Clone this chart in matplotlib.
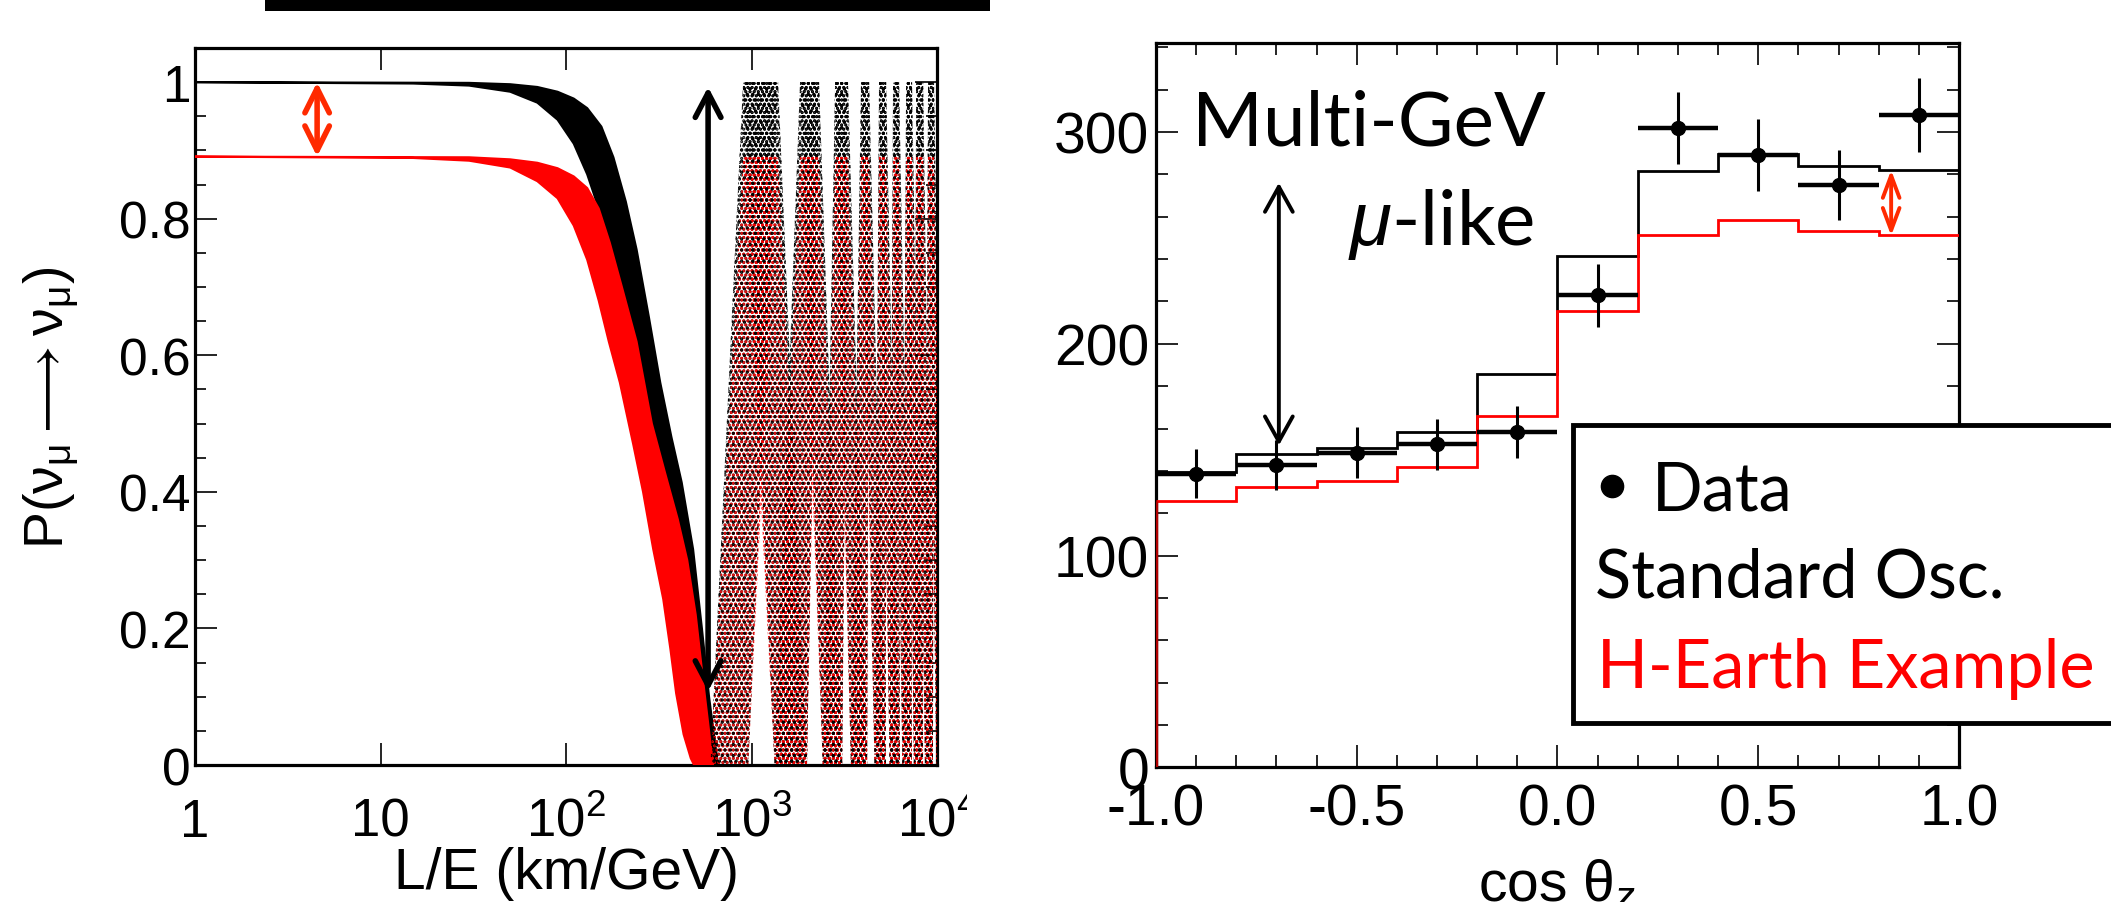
import numpy as np
import matplotlib
matplotlib.use('Agg')
import matplotlib.pyplot as plt
from matplotlib.ticker import LogLocator, NullFormatter, MultipleLocator
from matplotlib.patches import Rectangle
from matplotlib.lines import Line2D

plt.rcParams['font.family'] = 'Liberation Sans'
plt.rcParams['mathtext.fontset'] = 'custom'
plt.rcParams['mathtext.rm'] = 'Liberation Sans'
plt.rcParams['mathtext.it'] = 'Liberation Sans:italic'
plt.rcParams['hatch.linewidth'] = 1.5

# ---- left panel: survival probability band ----
# first dip, outer envelopes (L/E in km/GeV, P)
blk_hi_le = [1, 30, 50, 70, 90, 110, 130, 155, 180, 210, 240, 280, 322, 370, 420, 484, 540, 590, 630, 660]
blk_hi_p = [1.0, 0.999, 0.997, 0.993, 0.986, 0.976, 0.962, 0.935, 0.89, 0.825, 0.755, 0.655,
            0.56, 0.48, 0.414, 0.316, 0.2, 0.1, 0.04, 0.0]
blk_lo_le = [1, 15, 30, 50, 70, 90, 110, 130, 150, 175, 200, 240, 280, 320, 360, 400, 450, 490, 520]
blk_lo_p = [1.0, 0.998, 0.995, 0.986, 0.97, 0.945, 0.91, 0.865, 0.815, 0.75, 0.68, 0.57, 0.46,
            0.36, 0.27, 0.17, 0.07, 0.02, 0.0]

red_hi_le = [1, 30, 50, 70, 90, 110, 130, 150, 172, 200, 240, 290, 340, 400, 450, 500, 550, 590, 620]
red_hi_p = [0.891, 0.89, 0.887, 0.882, 0.874, 0.862, 0.845, 0.815, 0.765, 0.70, 0.62, 0.50,
            0.43, 0.36, 0.30, 0.22, 0.12, 0.05, 0.0]
red_lo_le = [1, 15, 30, 50, 70, 90, 110, 130, 150, 170, 195, 230, 260, 295, 334, 365, 392, 430, 470, 490]
red_lo_p = [0.891, 0.889, 0.885, 0.875, 0.855, 0.83, 0.79, 0.74, 0.68, 0.62, 0.56, 0.47, 0.40,
            0.316, 0.243, 0.17, 0.105, 0.045, 0.01, 0.0]

# fast oscillation region: L/E ranges of the maxima (top) and minima (bottom)
peak_lo = [900, 1825, 2820, 3890, 4865, 5790, 6810, 7710, 8940]
peak_hi = [1390, 2311, 3311, 4300, 5310, 6240, 7330, 8410, 9630]
trough_lo = [600, 1330, 2420, 3430, 4600, 5550, 6500, 7500, 8600, 9900]
trough_hi = [960, 1990, 3080, 4200, 5300, 6300, 7300, 8400, 9500, 11000]
p_max_std = 1.0
p_max_h = 0.891

# ---- right panel: multi-GeV mu-like zenith distribution ----
cos_edges = [-1.0, -0.8, -0.6, -0.4, -0.2, 0.0, 0.2, 0.4, 0.6, 0.8, 1.0]
std_osc = [139.7, 148.0, 151.0, 158.3, 185.5, 241.3, 281.6, 289.4, 283.9, 282.2]
h_earth = [125.7, 132.6, 135.3, 141.7, 166.1, 215.3, 251.2, 258.3, 253.2, 251.5]
data_x = [-0.9, -0.7, -0.5, -0.3, -0.1, 0.1, 0.3, 0.5, 0.7, 0.9]
data_y = [138.6, 143.0, 148.5, 152.5, 158.3, 222.8, 301.9, 289.0, 274.8, 307.9]
data_err = [11.6, 11.8, 12.0, 12.0, 12.3, 15.0, 17.0, 17.0, 16.5, 17.6]

fig = plt.figure(figsize=(21.11, 9.03), dpi=100)
ax1 = fig.add_axes([0.0924, 0.1517, 0.3515, 0.794])
ax2 = fig.add_axes([0.5476, 0.149, 0.3804, 0.8023])


def osc_arms(ax, top, color, hatch, z=2):
    # zig-zag between minima and maxima, one quadrilateral per arm
    nodes = []
    for i in range(len(trough_lo)):
        nodes.append((trough_lo[i], trough_hi[i], 0.0))
        if i < len(peak_lo):
            nodes.append((peak_lo[i], peak_hi[i], top))
    for a, b in zip(nodes[:-1], nodes[1:]):
        ax.fill([a[0], a[1], b[1], b[0]], [a[2], a[2], b[2], b[2]],
                facecolor='none', edgecolor=color, lw=0, hatch=hatch, zorder=z)


ax1.fill(blk_lo_le + blk_hi_le[::-1], blk_lo_p + blk_hi_p[::-1],
         fc='black', ec='black', lw=1.5, zorder=2)
osc_arms(ax1, p_max_std, 'black', '....')
ax1.fill(red_lo_le + red_hi_le[::-1], red_lo_p + red_hi_p[::-1],
         fc='red', ec='red', lw=1.5, zorder=3)
osc_arms(ax1, p_max_h, 'red', '....', z=3)
# black points scattered among the red ones
osc_arms(ax1, p_max_std, 'black', '...', z=3.5)

ax1.annotate('', xy=(4.55, p_max_std), xytext=(4.55, p_max_h),
             arrowprops=dict(arrowstyle='<->,head_length=0.8,head_width=0.4', color='#ff2a00',
                             lw=4, mutation_scale=22, shrinkA=0, shrinkB=0), zorder=5)
ax1.annotate('', xy=(583, 0.993), xytext=(583, 0.108),
             arrowprops=dict(arrowstyle='<->,head_length=0.8,head_width=0.42', color='black',
                             lw=4, mutation_scale=22, shrinkA=0, shrinkB=0), zorder=5)

ax1.set_xscale('log')
ax1.set_xlim(1, 1e4)
ax1.set_ylim(0, 1.05)
ax1.set_xticks([1, 10, 100, 1000, 10000],
               ['1', '10', '$10^{2}$', '$10^{3}$', '$10^{4}$'])
ax1.xaxis.set_minor_locator(LogLocator(base=10, subs=np.arange(2, 10)))
ax1.xaxis.set_minor_formatter(NullFormatter())
ax1.set_yticks([0, 0.2, 0.4, 0.6, 0.8, 1.0], ['0', '0.2', '0.4', '0.6', '0.8', '1'])
ax1.yaxis.set_minor_locator(MultipleLocator(0.05))
ax1.tick_params(which='both', direction='in', top=True, right=True, width=1.2)
ax1.tick_params(which='major', length=16)
ax1.tick_params(which='minor', length=8)
ax1.tick_params(axis='y', labelsize=37, pad=3)
ax1.tick_params(axis='x', labelsize=38, pad=51)
for lab in ax1.get_xticklabels():
    lab.set_va('baseline')
for s in ax1.spines.values():
    s.set_linewidth(2.3)
ax1.set_xlabel('L/E (km/GeV)', size=41, va='top')
ax1.xaxis.set_label_coords(0.5, -0.113)
ax1.set_ylabel(r'P($\mathrm{\nu}_{\mathrm{\mu}}\longrightarrow\mathrm{\nu}_{\mathrm{\mu}}$)', size=40)
ax1.yaxis.set_label_coords(-0.154, 0.5)

# right panel
ax2.stairs(std_osc, cos_edges, color='black', lw=2, baseline=None, zorder=3)
ax2.stairs(h_earth, cos_edges, color='red', lw=2, baseline=None, zorder=3)
ax2.vlines(cos_edges[0], 0, h_earth[0], color='#b00000', lw=2.5, zorder=4)
ax2.errorbar(data_x, data_y, xerr=0.1, fmt='none', ecolor='black', elinewidth=3.2, zorder=5)
ax2.errorbar(data_x, data_y, yerr=data_err, fmt='o', color='black', ms=10,
             elinewidth=2.2, capsize=0, zorder=6)

ax2.annotate('', xy=(-0.694, 276), xytext=(-0.694, 152),
             arrowprops=dict(arrowstyle='<->,head_length=0.9,head_width=0.5', color='black',
                             lw=2.8, mutation_scale=20, shrinkA=0, shrinkB=0), zorder=5)
ax2.annotate('', xy=(0.831, 282), xytext=(0.831, 251),
             arrowprops=dict(arrowstyle='<->,head_length=0.8,head_width=0.3', color='#ff2a00',
                             lw=2.8, mutation_scale=20, shrinkA=0, shrinkB=0), zorder=5)

ax2.set_xlim(-1, 1)
ax2.set_ylim(0, 342)
ax2.set_xticks([-1.0, -0.5, 0.0, 0.5, 1.0], ['-1.0', '-0.5', '0.0', '0.5', '1.0'])
ax2.xaxis.set_minor_locator(MultipleLocator(0.1))
ax2.set_yticks([0, 100, 200, 300], ['0', '100', '200', '300'])
ax2.yaxis.set_minor_locator(MultipleLocator(20))
ax2.tick_params(which='both', direction='in', top=True, right=True, width=1.2)
ax2.tick_params(which='major', length=16)
ax2.tick_params(which='minor', length=8.5)
ax2.tick_params(axis='y', labelsize=41, pad=5)
ax2.tick_params(axis='x', labelsize=41, pad=11)
for s in ax2.spines.values():
    s.set_linewidth(2.3)
ax2.set_xlabel(r'cos $\mathrm{\theta}_{z}$', size=41, va='top')
ax2.xaxis.set_label_coords(0.5, -0.1235)

fig.text(0.5647, 0.8394, 'Multi-GeV', family='Lato', size=55, va='baseline')
fig.text(0.6386, 0.7287, r'$\mu$-like', family='Lato', size=55, va='baseline')

# legend box (runs off the right edge of the slide)
fig.add_artist(Rectangle((0.7451, 0.1982), 0.3, 0.33, transform=fig.transFigure,
                         fc='white', ec='black', lw=3.5, zorder=10))
fig.add_artist(Line2D([0.7636], [0.4607], marker='o', ms=16, color='black',
                      transform=fig.transFigure, zorder=11))
fig.text(0.7826, 0.4352, 'Data', family='Lato', size=48, va='baseline', zorder=11)
fig.text(0.7556, 0.3378, 'Standard Osc.', family='Lato', size=48, va='baseline', zorder=11)
fig.text(0.7565, 0.2381, 'H-Earth Example', family='Lato', size=48, va='baseline',
         color='red', zorder=11)

# slide decorations: bar above the left plot, right-hand image covering the 10^4 label
fig.add_artist(Rectangle((265 / 2111, 1 - 12 / 903), 725 / 2111, 0.03,
                         transform=fig.transFigure, fc='black', ec='none', zorder=10))
fig.add_artist(Rectangle((967 / 2111, 0), 120 / 2111, 130 / 903,
                         transform=fig.transFigure, fc='white', ec='none', zorder=10))

fig.savefig('out.png', dpi=100)
